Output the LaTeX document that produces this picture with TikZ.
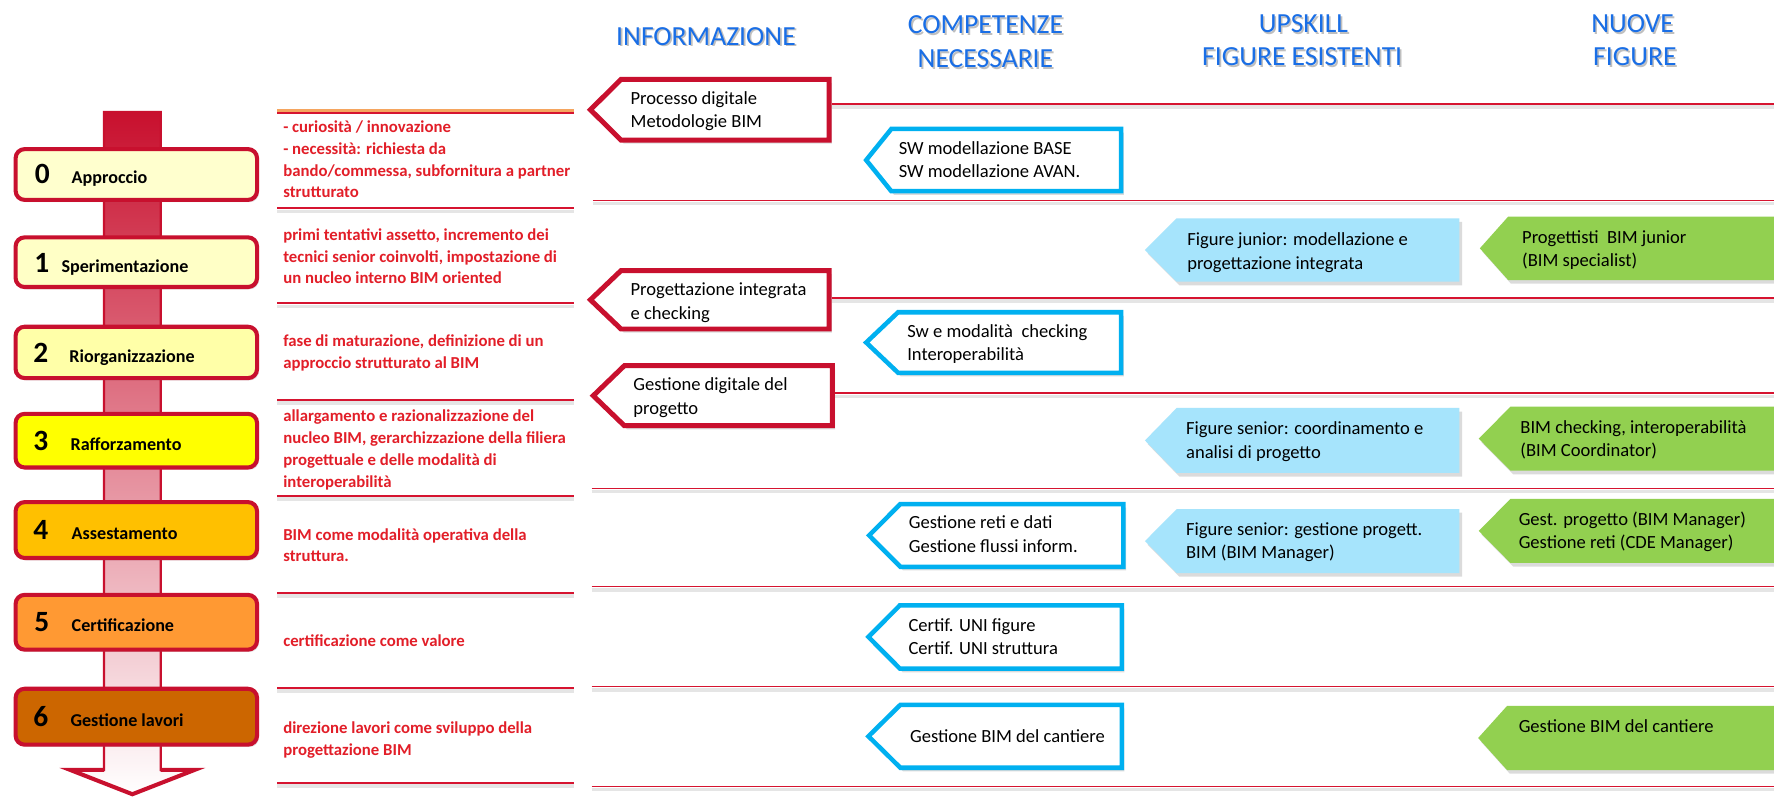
\documentclass[tikz,border=0pt]{standalone}
\usepackage{fontspec}
\setmainfont{Carlito}
\usetikzlibrary{shadows}
\definecolor{stred}{RGB}{200,16,46}
\definecolor{descred}{RGB}{226,30,40}
\definecolor{linered}{RGB}{214,20,48}
\definecolor{cyanb}{RGB}{0,176,240}
\definecolor{lblue}{RGB}{166,228,252}
\definecolor{lgreen}{RGB}{146,208,80}
\definecolor{hdrblue}{RGB}{25,110,230}
\definecolor{orline}{RGB}{245,165,95}
\definecolor{fy0}{RGB}{255,255,206}
\definecolor{fy1}{RGB}{255,255,198}
\definecolor{fy2}{RGB}{255,255,168}
\definecolor{fy3}{RGB}{255,255,0}
\definecolor{fy4}{RGB}{255,192,0}
\definecolor{fy5}{RGB}{255,153,51}
\definecolor{fy6}{RGB}{204,102,0}
\newcommand\tagshape[7][0]{\path[#2] ({#3+#1*1.3},{(#6+#7)/2}) -- ({#4+#1*0.4},{#6+#1}) -- ({#5-#1},{#6+#1}) -- ({#5-#1},{#7-#1}) -- ({#4+#1*0.4},{#7-#1}) -- cycle;}
\tikzset{
  hdr/.style={font=\fontsize{12.2}{14.5}\selectfont, text=hdrblue, inner sep=0pt, anchor=base},
  hdrsh/.style={font=\fontsize{12.2}{14.5}\selectfont, text=black!25, inner sep=0pt, anchor=base},
  boxtxt/.style={font=\fontsize{8.2}{10.3}\selectfont, align=left, anchor=base west, inner sep=0pt},
  desc/.style={font=\bfseries\fontsize{7.4}{9.6}\selectfont, text=descred, align=left, anchor=base west, inner sep=0pt},
  stagebox/.style={draw=stred, line width=1.8pt, rounded corners=4pt, drop shadow={shadow xshift=0.8pt, shadow yshift=-1pt, opacity=0.25}},
  stnum/.style={font=\bfseries\fontsize{13}{13}\selectfont, inner sep=0pt, anchor=base},
  stlab/.style={font=\bfseries\fontsize{8}{8}\selectfont, anchor=base west, inner sep=0pt},
  tagsh/.style={drop shadow={shadow xshift=1.2pt, shadow yshift=-1.6pt, opacity=0.28}},
  redtag/.style={draw=stred, fill=white, line width=2.2pt, tagsh},
  bluetag/.style={draw=cyanb, fill=white, line width=2pt, tagsh},
  lbtag/.style={fill=lblue, tagsh},
  grtag/.style={fill=lgreen, tagsh},
  rline/.style={draw=linered, line width=0.6pt},
  mline/.style={draw=linered, line width=0.9pt},
  lshade/.style={draw=black!10, line width=1.6pt},
}
\begin{document}
\begin{tikzpicture}[x=0.5pt,y=-0.5pt]
\useasboundingbox (0,0) rectangle (1568,704);
\fill[white] (0,0) rectangle (1568,704);

% headers
\node[hdrsh] (h1s) at (625.5,41.5) {INFORMAZIONE};
\node[hdr] (h1) at (624,40) {INFORMAZIONE};
\node[hdrsh] (h2s) at (872.5,31.5) {COMPETENZE};
\node[hdr] (h2) at (871,30) {COMPETENZE};
\node[hdrsh] (h3s) at (872.5,61) {NECESSARIE};
\node[hdr] (h3) at (871,59.5) {NECESSARIE};
\node[hdrsh] (h4s) at (1153.5,30.5) {UPSKILL};
\node[hdr] (h4) at (1152,29) {UPSKILL};
\node[hdrsh] (h5s) at (1152.5,59.5) {FIGURE ESISTENTI};
\node[hdr] (h5) at (1151,58) {FIGURE ESISTENTI};
\node[hdrsh] (h6s) at (1444.5,30.5) {NUOVE};
\node[hdr] (h6) at (1443,29) {NUOVE};
\node[hdrsh] (h7s) at (1446.5,59.5) {FIGURE};
\node[hdr] (h7) at (1445,58) {FIGURE};

% right-hand separator lines
\coordinate (re1) at (735,92);   \coordinate (rr1) at (1568,92);
\coordinate (re2) at (524,177);  \coordinate (rr2) at (1568,177);
\coordinate (re3) at (735,263.5);\coordinate (rr3) at (1568,263.5);
\coordinate (re4) at (738,347.5);\coordinate (rr4) at (1568,347.5);
\coordinate (re5) at (523,431.5);\coordinate (rr5) at (1568,431.5);
\coordinate (re6) at (523,518.6);\coordinate (rr6) at (1568,518.6);
\coordinate (re7) at (523,607);  \coordinate (rr7) at (1568,607);
\coordinate (re8) at (523,695);  \coordinate (rr8) at (1568,695);
\foreach \i in {1,...,8}{
  \draw[lshade] ([yshift=-1.4pt]re\i) -- ([yshift=-1.4pt]rr\i);
  \draw[rline] (re\i) -- (rr\i);
}

% middle column separator lines
\draw[draw=orline, line width=1.6pt] (245,98.2) -- (507,98.2);
\draw[mline] (245,100) -- (507,100);
\foreach \yy in {184,268,353.5,438,524,608,692}{
  \draw[lshade] (245,\yy+2.8) -- (507,\yy+2.8);
  \draw[mline] (245,\yy) -- (507,\yy);
}

% vertical progression arrow
\path[top color=stred, bottom color=white, draw=stred, line width=1pt]
  (92,99) -- (142,99) -- (142,680.5) -- (172,680.5) -- (117,702) -- (62,680.5) -- (92,680.5) -- cycle;
\draw[draw=stred, line width=1.8pt, line join=miter] (92,680.5) -- (62,680.5) -- (117,702) -- (172,680.5) -- (142,680.5);

% stage boxes
\draw[stagebox, fill=fy0] (13.8,131.8) rectangle (227.2,176.7);
\draw[stagebox, fill=fy1] (13.8,209.8) rectangle (227.2,253.7);
\draw[stagebox, fill=fy2] (13.8,288.8) rectangle (227.2,334.2);
\draw[stagebox, fill=fy3] (13.8,365.8) rectangle (227.2,413.2);
\draw[stagebox, fill=fy4] (13.8,443.8) rectangle (227.2,493.2);
\draw[stagebox, fill=fy5] (13.8,525.8) rectangle (227.2,574.2);
\draw[stagebox, fill=fy6] (13.8,608.8) rectangle (227.2,658.2);

\node[stnum] (n0) at (37.5,162.5) {0};
\node[stlab] (l0) at (63,162.5) {Approccio};
\node[stnum] (n1) at (37,240.5) {1};
\node[stlab] (l1) at (54,240.5) {Sperimentazione};
\node[stnum] (n2) at (36,320) {2};
\node[stlab] (l2) at (61,320) {Riorganizzazione};
\node[stnum] (n3) at (36,398) {3};
\node[stlab] (l3) at (62,398) {Rafforzamento};
\node[stnum] (n4) at (36,477) {4};
\node[stlab] (l4) at (63,477) {Assestamento};
\node[stnum] (n5) at (37,558.5) {5};
\node[stlab] (l5) at (63,558.5) {Certificazione};
\node[stnum] (n6) at (36,642) {6};
\node[stlab] (l6) at (62,642) {Gestione lavori};

% descriptions (anchored at the baseline of the last line)
\node[desc] (d0) at (250,175) {- curiosità / innovazione\\- necessità: richiesta da\\bando/commessa, subfornitura a partner\\strutturato};
\node[desc] (d1) at (250,251) {primi tentativi assetto, incremento dei\\tecnici senior coinvolti, impostazione di\\un nucleo interno BIM oriented};
\node[desc] (d2) at (250,325.5) {fase di maturazione, definizione di un\\approccio strutturato al BIM};
\node[desc] (d3) at (250,430.5) {allargamento e razionalizzazione del\\nucleo BIM, gerarchizzazione della filiera\\progettuale e delle modalità di\\interoperabilità};
\node[desc] (d4) at (250,496.5) {BIM come modalità operativa della\\struttura.};
\node[desc] (d5) at (250,571.5) {certificazione come valore};
\node[desc] (d6) at (250,667.5) {direzione lavori come sviluppo della\\progettazione BIM};

% INFORMAZIONE tags
\tagshape[2.2]{redtag}{519}{548}{735}{68}{126}
\tagshape[2.2]{redtag}{519}{548}{735}{237}{293}
\tagshape[2.2]{redtag}{521.5}{551}{738}{321}{378.5}
\node[boxtxt] (i1) at (557,113) {Processo digitale\\Metodologie BIM};
\node[boxtxt] (i2) at (557,282) {Progettazione integrata\\e checking};
\node[boxtxt] (i3) at (559.5,366) {Gestione digitale del\\progetto};

% COMPETENZE tags
\tagshape[2]{bluetag}{763}{787}{993}{112}{171}
\tagshape[2]{bluetag}{763}{793}{993}{274}{331.5}
\tagshape[2]{bluetag}{765.6}{795}{995}{443.5}{503}
\tagshape[2]{bluetag}{765}{794.6}{993.5}{533}{593}
\tagshape[2]{bluetag}{765}{795}{993.5}{621}{680.6}
\node[boxtxt] (c1) at (794,157) {SW modellazione BASE\\SW modellazione AVAN.};
\node[boxtxt] (c2) at (801.5,319) {Sw e modalità~ checking\\Interoperabilità};
\node[boxtxt] (c3) at (803,488) {Gestione reti e dati\\Gestione flussi inform.};
\node[boxtxt] (c4) at (802.6,578.5) {Certif. UNI figure\\Certif. UNI struttura};
\node[boxtxt] (c5) at (804,656) {Gestione BIM del cantiere};

% UPSKILL tags
\tagshape{lbtag}{1012}{1040}{1290}{193}{249}
\tagshape{lbtag}{1012}{1040}{1290}{360.6}{418}
\tagshape{lbtag}{1012}{1040}{1290}{450}{506.5}
\node[boxtxt] (u1) at (1049,238) {Figure junior: modellazione e\\progettazione integrata};
\node[boxtxt] (u2) at (1048,405) {Figure senior: coordinamento e\\analisi di progetto};
\node[boxtxt] (u3) at (1048,494) {Figure senior: gestione progett.\\BIM (BIM Manager)};

% NUOVE FIGURE tags
\tagshape{grtag}{1308}{1333}{1575}{191.5}{247.5}
\tagshape{grtag}{1307}{1335}{1575}{359.5}{416}
\tagshape{grtag}{1307}{1335}{1575}{441}{497.6}
\tagshape{grtag}{1306.5}{1332}{1575}{624}{680.6}
\node[boxtxt] (g1) at (1345,236) {Progettisti~ BIM junior\\(BIM specialist)};
\node[boxtxt] (g2) at (1343.5,403.5) {BIM checking, interoperabilità\\(BIM Coordinator)};
\node[boxtxt] (g3) at (1342,485) {Gest. progetto (BIM Manager)\\Gestione reti (CDE Manager)};
\node[boxtxt] (g4) at (1342,647.5) {Gestione BIM del cantiere};
\end{tikzpicture}
\end{document}
